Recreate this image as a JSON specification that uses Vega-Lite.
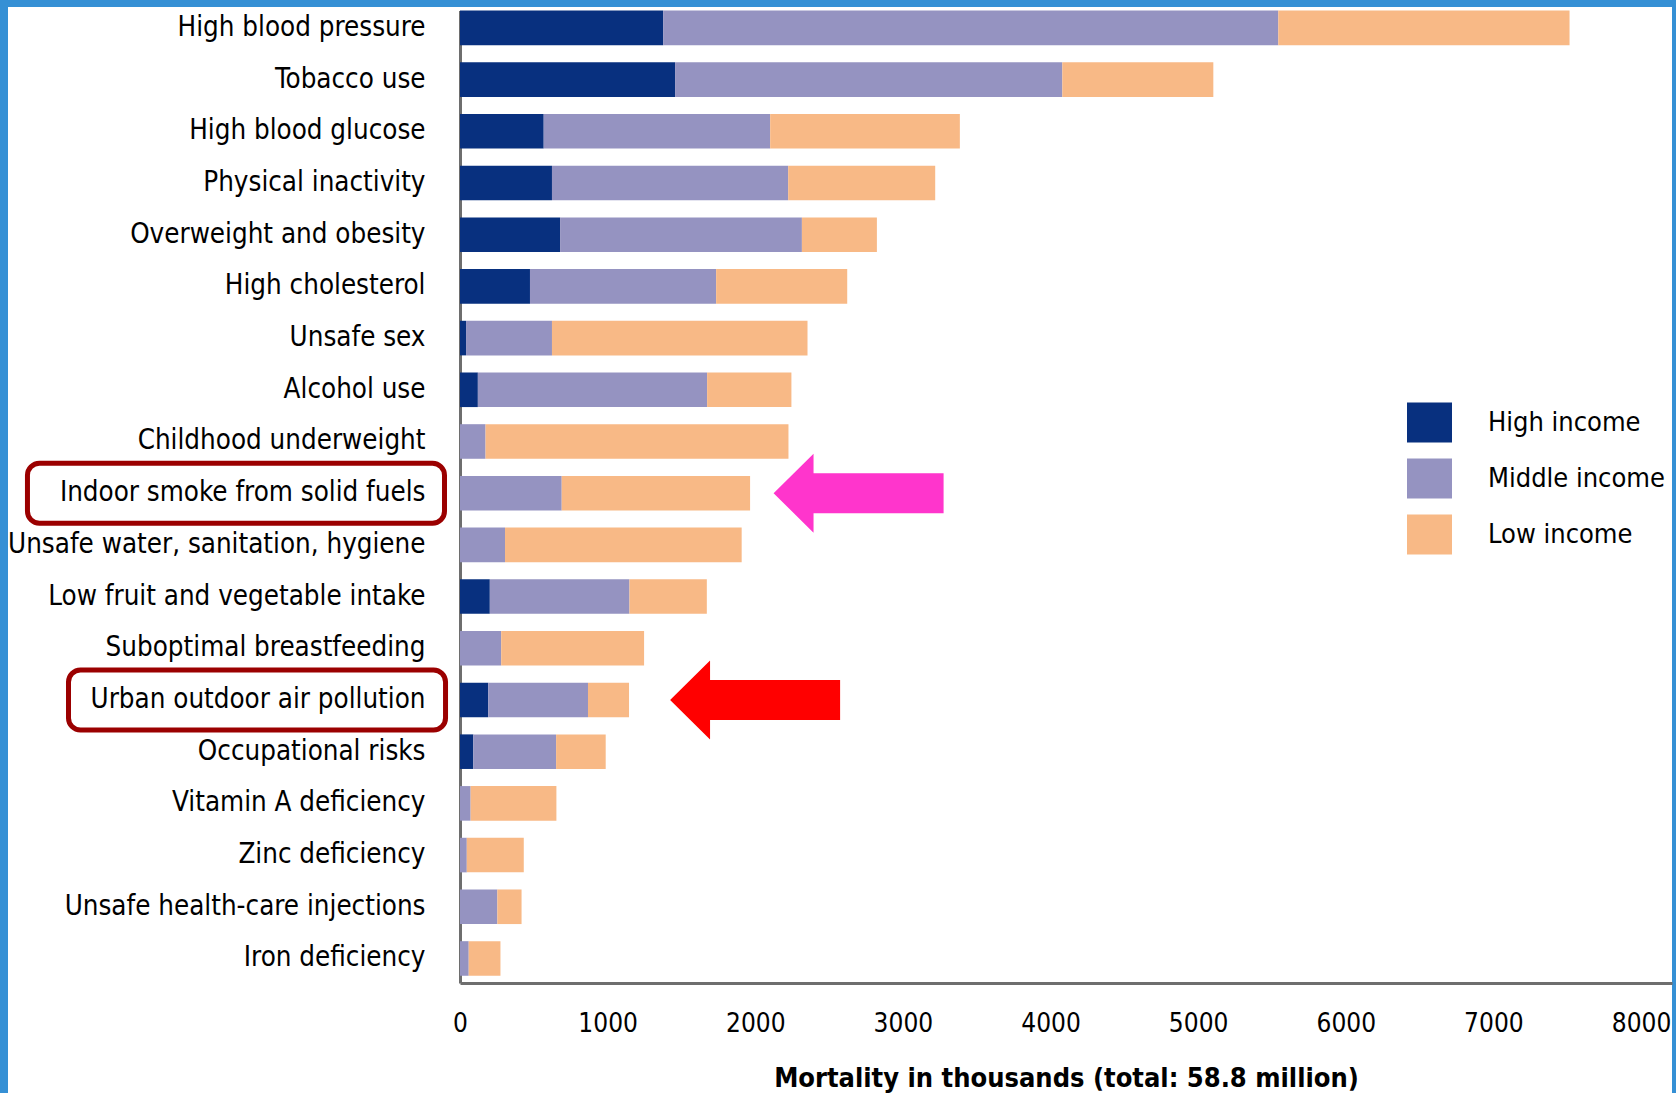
{
  "$schema": "https://vega.github.io/schema/vega-lite/v6.json",
  "autosize": {"type": "none"},
  "width": 1664,
  "height": 1086,
  "padding": {"left": 8, "top": 7, "right": 4, "bottom": 0},
  "background": "#3590D5",
  "config": {"view": {"fill": "white", "stroke": null}, "font": "DejaVu Sans Condensed"},
  "datasets": {
    "bars": [
      {"risk": "High blood pressure", "High income": 1376, "Middle income": 4167, "Low income": 1973},
      {"risk": "Tobacco use", "High income": 1457, "Middle income": 2623, "Low income": 1023},
      {"risk": "High blood glucose", "High income": 567, "Middle income": 1534, "Low income": 1285},
      {"risk": "Physical inactivity", "High income": 623, "Middle income": 1600, "Low income": 996},
      {"risk": "Overweight and obesity", "High income": 678, "Middle income": 1638, "Low income": 508},
      {"risk": "High cholesterol", "High income": 474, "Middle income": 1261, "Low income": 888},
      {"risk": "Unsafe sex", "High income": 41, "Middle income": 582, "Low income": 1731},
      {"risk": "Alcohol use", "High income": 121, "Middle income": 1553, "Low income": 571},
      {"risk": "Childhood underweight", "High income": 0, "Middle income": 173, "Low income": 2052},
      {"risk": "Indoor smoke from solid fuels", "High income": 0, "Middle income": 689, "Low income": 1276},
      {"risk": "Unsafe water, sanitation, hygiene", "High income": 0, "Middle income": 305, "Low income": 1603},
      {"risk": "Low fruit and vegetable intake", "High income": 202, "Middle income": 946, "Low income": 524},
      {"risk": "Suboptimal breastfeeding", "High income": 0, "Middle income": 279, "Low income": 968},
      {"risk": "Urban outdoor air pollution", "High income": 191, "Middle income": 676, "Low income": 278},
      {"risk": "Occupational risks", "High income": 90, "Middle income": 561, "Low income": 336},
      {"risk": "Vitamin A deficiency", "High income": 0, "Middle income": 72, "Low income": 581},
      {"risk": "Zinc deficiency", "High income": 0, "Middle income": 46, "Low income": 386},
      {"risk": "Unsafe health-care injections", "High income": 0, "Middle income": 253, "Low income": 164},
      {"risk": "Iron deficiency", "High income": 0, "Middle income": 59, "Low income": 215}
    ],
    "boxes": [
      {"risk": "Indoor smoke from solid fuels", "x0": -2930, "x1": -105},
      {"risk": "Urban outdoor air pollution", "x0": -2652, "x1": -98}
    ],
    "arrows": [
      {"risk": "Indoor smoke from solid fuels", "ax": 2700},
      {"risk": "Urban outdoor air pollution", "ax": 1999}
    ]
  },
  "layer": [
    {
      "data": {"name": "bars"},
      "transform": [
        {"fold": ["High income", "Middle income", "Low income"], "as": ["income", "deaths"]},
        {"calculate": "indexof(['High income','Middle income','Low income'], datum.income)", "as": "rank"}
      ],
      "mark": {"type": "bar"},
      "encoding": {
        "y": {
          "field": "risk", "type": "nominal",
          "scale": {
            "domain": ["High blood pressure", "Tobacco use", "High blood glucose", "Physical inactivity", "Overweight and obesity", "High cholesterol", "Unsafe sex", "Alcohol use", "Childhood underweight", "Indoor smoke from solid fuels", "Unsafe water, sanitation, hygiene", "Low fruit and vegetable intake", "Suboptimal breastfeeding", "Urban outdoor air pollution", "Occupational risks", "Vitamin A deficiency", "Zinc deficiency", "Unsafe health-care injections", "Iron deficiency"],
            "range": [3.6, 976], "paddingInner": 0.331, "paddingOuter": 0.07, "align": 0
          },
          "axis": {
            "orient": "left", "offset": -452, "title": null, "ticks": false, "tickSize": 0,
            "domainColor": "#6E6E6E", "domainWidth": 3,
            "labelFont": "DejaVu Sans Condensed", "labelFontSize": 27.5, "labelColor": "#000000",
            "labelPadding": 35, "labelLimit": 700
          }
        },
        "x": {
          "field": "deaths", "type": "quantitative", "stack": "zero",
          "scale": {"domain": [0, 8210], "range": [452, 1664], "nice": false, "zero": false},
          "axis": {
            "orient": "bottom", "offset": -110, "values": [0, 1000, 2000, 3000, 4000, 5000, 6000, 7000, 8000],
            "ticks": false, "tickSize": 0, "grid": false, "domainColor": "#6E6E6E", "domainWidth": 3,
            "labelFont": "DejaVu Sans Condensed", "labelFontSize": 26, "labelColor": "#000000",
            "labelPadding": 27, "labelFlush": false, "labelOverlap": false, "format": "d",
            "title": "Mortality in thousands (total: 58.8 million)",
            "titleFont": "DejaVu Sans Condensed", "titleFontWeight": "bold", "titleFontSize": 27,
            "titleColor": "#000000", "titleY": 103, "titleBaseline": "alphabetic"
          }
        },
        "color": {
          "field": "income", "type": "nominal",
          "scale": {"domain": ["High income", "Middle income", "Low income"], "range": ["#08307F", "#9593C1", "#F8B986"]},
          "legend": {
            "title": null, "orient": "none", "legendX": 1399, "legendY": 393, "padding": 0,
            "symbolType": "M-1,-0.889L1,-0.889L1,0.889L-1,0.889Z", "symbolSize": 2025,
            "symbolStrokeWidth": 0, "symbolOpacity": 1,
            "labelFont": "DejaVu Sans Condensed", "labelFontSize": 27, "labelColor": "#000000",
            "labelOffset": 36, "rowPadding": 13, "labelLimit": 400
          }
        },
        "order": {"field": "rank", "type": "quantitative", "sort": "ascending"}
      }
    },
    {
      "data": {"name": "boxes"},
      "mark": {"type": "rect", "fill": "transparent", "stroke": "#9B0000", "strokeWidth": 5, "cornerRadius": 12, "height": 60},
      "encoding": {
        "y": {"field": "risk", "type": "nominal"},
        "x": {"field": "x0", "type": "quantitative"},
        "x2": {"field": "x1"}
      }
    },
    {
      "data": {"name": "arrows"},
      "mark": {
        "type": "point",
        "shape": "M-1,0L-0.53,-0.465L-0.53,-0.235L1,-0.235L1,0.235L-0.53,0.235L-0.53,0.465Z",
        "size": 28900, "filled": true, "opacity": 1, "strokeWidth": 0
      },
      "encoding": {
        "y": {"field": "risk", "type": "nominal"},
        "x": {"field": "ax", "type": "quantitative"},
        "fill": {
          "field": "risk", "type": "nominal",
          "scale": {"domain": ["Indoor smoke from solid fuels", "Urban outdoor air pollution"], "range": ["#FF35CC", "#FF0000"]},
          "legend": null
        }
      }
    }
  ]
}
